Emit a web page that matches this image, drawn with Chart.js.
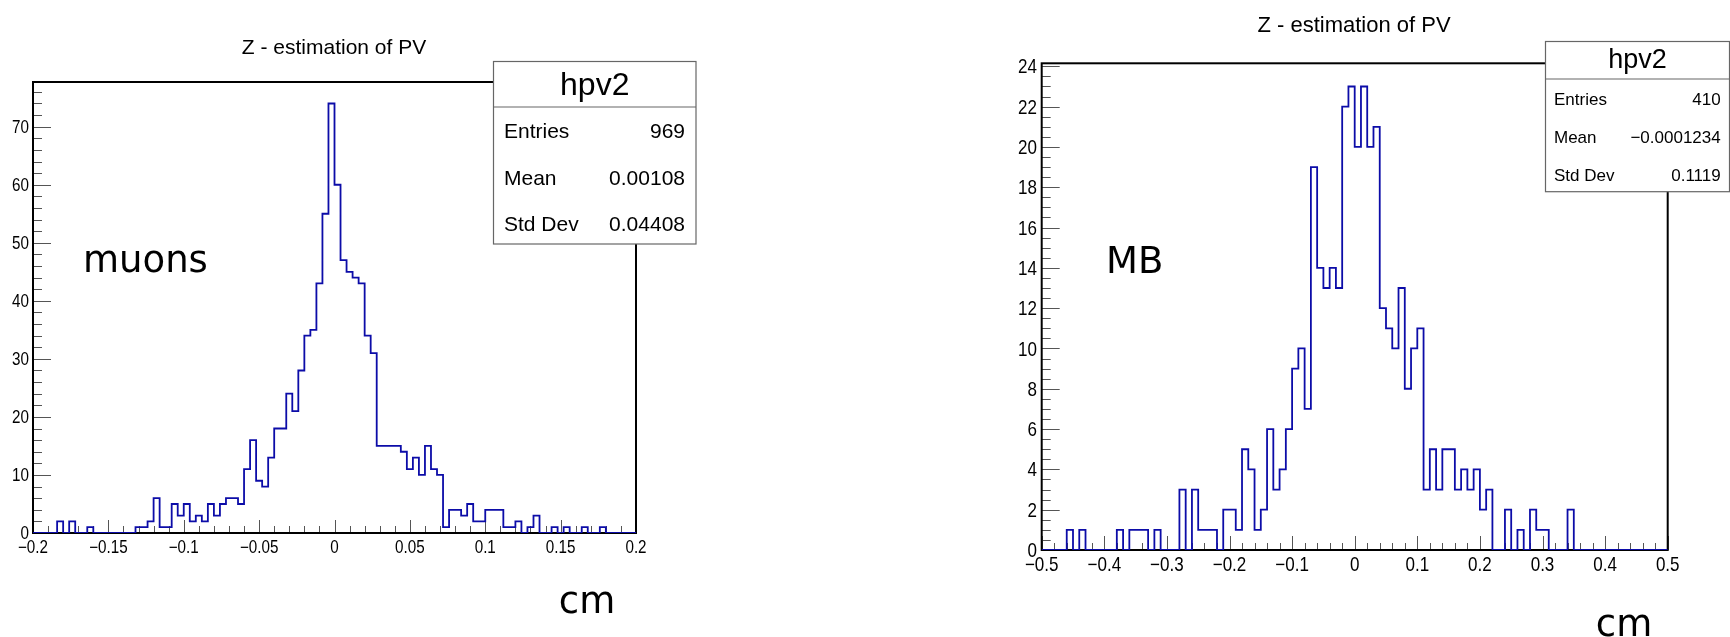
<!DOCTYPE html>
<html>
<head>
<meta charset="utf-8">
<script src="https://cdn.jsdelivr.net/npm/chart.js@4/dist/chart.umd.min.js"></script>
<style>
  body { margin: 0; background: #fff; width: 1730px; height: 637px; overflow: hidden; position: relative; }
  canvas { position: absolute; top: 0; }
  #muons { left: 0; }
  #mb { left: 865px; }
</style>
</head>
<body>
<canvas id="muons" width="865" height="637"></canvas>
<canvas id="mb" width="865" height="637"></canvas>
<script>
// muons sample: 100 bins between -0.2 and 0.2 cm
var muonsMin = -0.2, muonsMax = 0.2;
var muonsCounts = [
  0, 0, 0, 0, 2, 0, 2, 0, 0, 1,
  0, 0, 0, 0, 0, 0, 0, 1, 1, 2,
  6, 1, 1, 5, 3, 5, 2, 3, 2, 5,
  3, 5, 6, 6, 5, 11, 16, 9, 8, 13,
  18, 18, 24, 21, 28, 34, 35, 43, 55, 74,
  60, 47, 45, 44, 43, 34, 31, 15, 15, 15,
  15, 14, 11, 13, 10, 15, 11, 10, 1, 4,
  4, 3, 5, 2, 2, 4, 4, 4, 1, 1,
  2, 0, 1, 3, 0, 0, 1, 0, 1, 0,
  0, 1, 0, 0, 1, 0, 0, 0, 0, 0
];
var muonsXTicks = [-0.2, -0.15, -0.1, -0.05, 0, 0.05, 0.1, 0.15, 0.2];
var muonsYTicks = [0, 10, 20, 30, 40, 50, 60, 70];
var muonsStats = ['969', '0.00108', '0.04408'];

// MB sample: 100 bins between -0.5 and 0.5 cm
var mbMin = -0.5, mbMax = 0.5;
var mbCounts = [
  0, 0, 0, 0, 1, 0, 1, 0, 0, 0,
  0, 0, 1, 0, 1, 1, 1, 0, 1, 0,
  0, 0, 3, 0, 3, 1, 1, 1, 0, 2,
  2, 1, 5, 4, 1, 2, 6, 3, 4, 6,
  9, 10, 7, 19, 14, 13, 14, 13, 22, 23,
  20, 23, 20, 21, 12, 11, 10, 13, 8, 10,
  11, 3, 5, 3, 5, 5, 3, 4, 3, 4,
  2, 3, 0, 0, 2, 0, 1, 0, 2, 1,
  1, 0, 0, 0, 2, 0, 0, 0, 0, 0,
  0, 0, 0, 0, 0, 0, 0, 0, 0, 0
];
var mbXTicks = [-0.5, -0.4, -0.3, -0.2, -0.1, 0, 0.1, 0.2, 0.3, 0.4, 0.5];
var mbYTicks = [0, 2, 4, 6, 8, 10, 12, 14, 16, 18, 20, 22, 24];
var mbStats = ['410', '\u22120.0001234', '0.1119'];

var statNames = ['Entries', 'Mean', 'Std Dev'];
var histName = 'hpv2';
var histTitle = 'Z - estimation of PV';

function fmt(v) {
  return String(Math.round(v * 1000) / 1000).replace('-', '\u2212');
}

// ROOT-like labels come out a bit condensed: squeeze them horizontally
function squeezed(ctx, text, x, y, align, sx) {
  ctx.save();
  ctx.translate(x, y);
  ctx.scale(sx, 1);
  ctx.textAlign = align;
  ctx.fillText(text, 0, 0);
  ctx.restore();
}

function rootPad(o) {
  return {
    id: 'rootPad',
    beforeDatasetsDraw: function(chart) {
      var ctx = chart.ctx, a = chart.chartArea, xs = chart.scales.x, ys = chart.scales.y;
      ctx.save();
      ctx.strokeStyle = '#555';
      ctx.lineWidth = 1;
      ctx.beginPath();
      var nx = Math.round((o.max - o.min) / o.xMinor);
      for (var k = 0; k <= nx; k++) {
        var px = Math.round(xs.getPixelForValue(o.min + k * o.xMinor)) + 0.5;
        var len = k % o.xPer === 0 ? o.xLen[0] : o.xLen[1];
        ctx.moveTo(px, a.bottom);
        ctx.lineTo(px, a.bottom - len);
      }
      var ny = Math.floor(ys.max / o.yMinor + 1e-9);
      for (k = 0; k <= ny; k++) {
        var py = Math.round(ys.getPixelForValue(k * o.yMinor)) + 0.5;
        len = k % o.yPer === 0 ? o.yLen[0] : o.yLen[1];
        ctx.moveTo(a.left, py);
        ctx.lineTo(a.left + len, py);
      }
      ctx.stroke();
      ctx.strokeStyle = '#000';
      ctx.lineWidth = 2;
      ctx.strokeRect(a.left, a.top, a.right - a.left, a.bottom - a.top);

      // tick labels
      ctx.fillStyle = '#000';
      ctx.textBaseline = 'alphabetic';
      ctx.font = o.tickSize + 'px "Liberation Sans", sans-serif';
      var dh = o.tickSize * 0.716;
      xs.ticks.forEach(function(t) {
        squeezed(ctx, fmt(t.value), xs.getPixelForValue(t.value), a.bottom + o.xLabelGap + dh, 'center', 0.86);
      });
      ys.ticks.forEach(function(t) {
        squeezed(ctx, fmt(t.value), a.left - o.yLabelGap, ys.getPixelForValue(t.value) + dh / 2, 'right', 0.86);
      });
      ctx.restore();
    },
    afterDraw: function(chart) {
      var ctx = chart.ctx, b = o.box;
      ctx.save();
      // title
      ctx.fillStyle = '#000';
      ctx.textAlign = 'center';
      ctx.textBaseline = 'alphabetic';
      ctx.font = o.titleFont + 'px "Liberation Sans", sans-serif';
      ctx.fillText(histTitle, o.titleX, o.titleY);
      // stats box
      ctx.fillStyle = '#fff';
      ctx.fillRect(b.x, b.y, b.w, b.h);
      ctx.strokeStyle = '#666';
      ctx.lineWidth = 1.2;
      ctx.strokeRect(b.x, b.y, b.w, b.h);
      ctx.beginPath();
      ctx.moveTo(b.x, b.div);
      ctx.lineTo(b.x + b.w, b.div);
      ctx.stroke();
      ctx.fillStyle = '#000';
      ctx.font = b.nameFont + 'px "Liberation Sans", sans-serif';
      ctx.fillText(histName, b.x + b.w / 2, b.nameY);
      ctx.font = b.rowFont + 'px "Liberation Sans", sans-serif';
      for (var i = 0; i < statNames.length; i++) {
        ctx.textAlign = 'left';
        ctx.fillText(statNames[i], b.textL, b.rows[i]);
        ctx.textAlign = 'right';
        ctx.fillText(o.stats[i], b.textR, b.rows[i]);
      }
      // sample label and unit
      ctx.font = '37px "DejaVu Sans", sans-serif';
      ctx.textAlign = 'left';
      ctx.fillText(o.label, o.labelX, o.labelY);
      ctx.textAlign = 'center';
      ctx.fillText('cm', o.unitX, o.unitY);
      ctx.restore();
    }
  };
}

function histChart(id, o) {
  var n = o.counts.length;
  var pts = [];
  for (var i = 0; i <= n; i++) {
    pts.push({ x: o.min + (o.max - o.min) * i / n, y: o.counts[Math.min(i, n - 1)] });
  }
  var yMax = Math.max.apply(null, o.counts) * 1.05;
  return new Chart(document.getElementById(id), {
    type: 'line',
    data: {
      datasets: [{
        data: pts,
        stepped: true,
        borderColor: '#0c0ca8',
        borderWidth: 1.8,
        pointRadius: 0,
        fill: false
      }]
    },
    options: {
      responsive: false,
      animation: false,
      events: [],
      layout: { padding: o.padding },
      plugins: { legend: { display: false }, tooltip: { enabled: false } },
      scales: {
        x: {
          type: 'linear', min: o.min, max: o.max,
          grid: { display: false, drawTicks: false },
          border: { display: false },
          afterBuildTicks: function(s) { s.ticks = o.xTicks.map(function(v) { return { value: v }; }); },
          afterFit: function(s) { s.height = o.xAxisH; },
          ticks: { display: false }
        },
        y: {
          type: 'linear', min: 0, max: yMax,
          grid: { display: false, drawTicks: false },
          border: { display: false },
          afterBuildTicks: function(s) { s.ticks = o.yTicks.map(function(v) { return { value: v }; }); },
          afterFit: function(s) { s.width = o.yAxisW; },
          ticks: { display: false }
        }
      }
    },
    plugins: [rootPad(o)]
  });
}

histChart('muons', {
  counts: muonsCounts, min: muonsMin, max: muonsMax,
  xTicks: muonsXTicks, yTicks: muonsYTicks, stats: muonsStats,
  padding: { left: 0, top: 82, right: 229, bottom: 0 },
  yAxisW: 33, xAxisH: 104,
  tickSize: 17.7, xLabelGap: 7, yLabelGap: 4,
  xMinor: 0.01, xPer: 5, xLen: [13, 7],
  yMinor: 2, yPer: 5, yLen: [18, 9],
  titleFont: 21, titleX: 334, titleY: 54,
  box: { x: 493.5, y: 61.5, w: 202.5, h: 182.5, div: 107, nameFont: 32, nameY: 94.7,
         rowFont: 21, rows: [138, 184.7, 230.7], textL: 504, textR: 685 },
  label: 'muons', labelX: 83, labelY: 272.3,
  unitX: 587, unitY: 612.7
});

histChart('mb', {
  counts: mbCounts, min: mbMin, max: mbMax,
  xTicks: mbXTicks, yTicks: mbYTicks, stats: mbStats,
  padding: { left: 136.7, top: 63.3, right: 62.3, bottom: 0 },
  yAxisW: 40, xAxisH: 87,
  tickSize: 19.8, xLabelGap: 7, yLabelGap: 4.7,
  xMinor: 0.02, xPer: 5, xLen: [14, 7],
  yMinor: 0.5, yPer: 4, yLen: [18, 9],
  titleFont: 22, titleX: 489, titleY: 31.7,
  box: { x: 680.5, y: 41.5, w: 184, h: 150.2, div: 79, nameFont: 27, nameY: 68.3,
         rowFont: 17, rows: [105, 142.7, 180.7], textL: 689, textR: 855.7 },
  label: 'MB', labelX: 241, labelY: 272.7,
  unitX: 759, unitY: 635.7
});
</script>
</body>
</html>
